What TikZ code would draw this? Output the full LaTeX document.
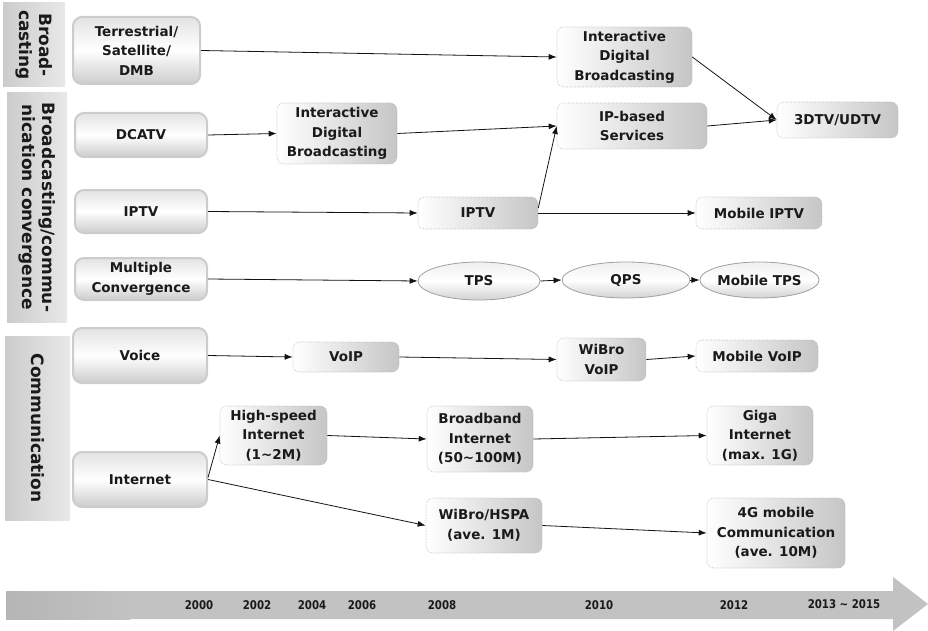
\documentclass[tikz,border=0pt]{standalone}
\usepackage{fontspec}
\setmainfont{DejaVu Sans}
\usetikzlibrary{shapes.geometric,arrows.meta}
\definecolor{ink}{HTML}{1A1A1A}
\begin{document}
\begin{tikzpicture}[x=1pt,y=-1pt,
  txt/.style={font=\fontsize{13.5}{19.5}\selectfont\bfseries, text=ink, align=center, inner sep=0pt},
  catbox/.style={rectangle, left color=gray!40, right color=gray!18, draw=none, inner sep=0pt},
  cattext/.style={font=\fontsize{17}{20}\selectfont\bfseries, text=ink, align=center, rotate=-90, inner sep=0pt},
  leftbox/.style={txt, rectangle, rounded corners=9pt, draw=gray!40, line width=2pt,
     top color=gray!22, bottom color=gray!40, middle color=white},
  midbox/.style={txt, rectangle, rounded corners=7pt, draw=gray!55, densely dotted, line width=0.6pt,
     left color=white, right color=gray!45},
  ellbox/.style={txt, ellipse, draw=gray!75, line width=0.8pt,
     top color=gray!12, bottom color=gray!35, middle color=white},
  conn/.style={draw=gray!15!black, line width=0.8pt, -{Latex[length=8pt,width=6pt]}},
  yr/.style={font=\fontsize{12}{14}\selectfont\bfseries, text=ink, inner sep=0pt}
]
\useasboundingbox (0,0) rectangle (928,631);

% timeline band
\fill[gray!48] (6,591) -- (893,591) -- (893,577) -- (928,604) -- (893,631) -- (893,619) -- (6,619) -- cycle;
\shade[left color=gray!58, right color=gray!48] (6,591) rectangle (130,619);
\node[yr] (y2000) at (199,605) {\scalebox{0.85}[1]{2000}};
\node[yr] (y2002) at (257,605) {\scalebox{0.85}[1]{2002}};
\node[yr] (y2004) at (312,605) {\scalebox{0.85}[1]{2004}};
\node[yr] (y2006) at (362,605) {\scalebox{0.85}[1]{2006}};
\node[yr] (y2008) at (442,605) {\scalebox{0.85}[1]{2008}};
\node[yr] (y2010) at (599,605) {\scalebox{0.85}[1]{2010}};
\node[yr] (y2012) at (734,605) {\scalebox{0.85}[1]{2012}};
\node[yr] (y2013) at (844,604) {\scalebox{0.85}[1]{2013 \textasciitilde{} 2015}};

% category boxes
\node[catbox, minimum width=62, minimum height=84] (cat1) at (34,45) {};
\node[cattext] (cat1t) at (cat1) {Broad-\\casting};
\node[catbox, minimum width=60, minimum height=229] (cat2) at (37,207.5) {};
\node[cattext] (cat2t) at (cat2) {Broadcasting/commu-\\nication convergence};
\node[catbox, minimum width=65, minimum height=184] (cat3) at (37.5,428) {};
\node[cattext] (cat3t) at (cat3) {Communication};

% left boxes
\node[leftbox, minimum width=127, minimum height=67] (terr) at (136.5,50.5) {Terrestrial/\\Satellite/\\DMB};
\node[leftbox, minimum width=132, minimum height=44] (dcatv) at (141,135) {DCATV};
\node[leftbox, minimum width=132, minimum height=43] (iptvL) at (141,211.5) {IPTV};
\node[leftbox, minimum width=132, minimum height=42] (multi) at (141,279) {Multiple\\Convergence};
\node[leftbox, minimum width=134, minimum height=55] (voice) at (140,355.5) {Voice};
\node[leftbox, minimum width=134, minimum height=55] (inet) at (140,479.5) {Internet};

% middle / right boxes
\node[midbox, minimum width=135, minimum height=60] (idb1) at (624.5,57) {Interactive\\Digital\\Broadcasting};
\node[midbox, minimum width=120, minimum height=61] (idb2) at (337,133.5) {Interactive\\Digital\\Broadcasting};
\node[midbox, minimum width=150, minimum height=46] (ipb) at (632,126) {IP-based\\Services};
\node[midbox, minimum width=121, minimum height=36] (tdtv) at (837.5,120) {3DTV/UDTV};
\node[midbox, minimum width=120, minimum height=32] (iptvM) at (478,213) {IPTV};
\node[midbox, minimum width=126, minimum height=32] (mipt) at (759,213) {Mobile IPTV};
\node[ellbox, minimum width=122, minimum height=38] (tps) at (479,281) {TPS};
\node[ellbox, minimum width=128, minimum height=36] (qps) at (626,280) {QPS};
\node[ellbox, minimum width=111, minimum height=36] (mtps) at (759.5,280) {Mobile TPS};
\node[midbox, minimum width=106, minimum height=30] (voip) at (346,357) {VoIP};
\node[midbox, minimum width=89, minimum height=43] (wvoip) at (601.5,359.5) {WiBro\\VoIP};
\node[midbox, minimum width=122, minimum height=32] (mvoip) at (757,356) {Mobile VoIP};
\node[midbox, minimum width=107, minimum height=59] (hs) at (273.5,435.5) {High-speed\\Internet\\(1\textasciitilde 2M)};
\node[midbox, minimum width=106, minimum height=66] (bb) at (480,439) {Broadband\\Internet\\(50\textasciitilde 100M)};
\node[midbox, minimum width=106, minimum height=59] (giga) at (760,435.5) {Giga\\Internet\\(max. 1G)};
\node[midbox, minimum width=116, minimum height=55] (wh) at (484,525.5) {WiBro/HSPA\\(ave. 1M)};
\node[midbox, minimum width=138, minimum height=70] (g4) at (776,533) {4G mobile\\Communication\\(ave. 10M)};

% connectors
\draw[conn] (terr.east) -- (idb1.west);
\draw[conn] (idb1.east) -- (tdtv.west);
\draw[conn] (ipb.east) -- (tdtv.west);
\draw[conn] (dcatv.east) -- (idb2.west);
\draw[conn] (idb2.east) -- (ipb.west);
\draw[conn] (iptvL.east) -- (iptvM.west);
\draw[conn] ([yshift=5pt]iptvM.east) -- (ipb.west);
\draw[conn] (iptvM.east) -- (mipt.west);
\draw[conn] (multi.east) -- (tps.west);
\draw[conn] (tps.east) -- (qps.west);
\draw[conn] (qps.east) -- (mtps.west);
\draw[conn] (voice.east) -- (voip.west);
\draw[conn] (voip.east) -- (wvoip.west);
\draw[conn] (wvoip.east) -- (mvoip.west);
\draw[conn] ([yshift=2pt]inet.east) -- (hs.west);
\draw[conn] (inet.east) -- (wh.west);
\draw[conn] (hs.east) -- (bb.west);
\draw[conn] (bb.east) -- (giga.west);
\draw[conn] (wh.east) -- (g4.west);
\end{tikzpicture}
\end{document}
